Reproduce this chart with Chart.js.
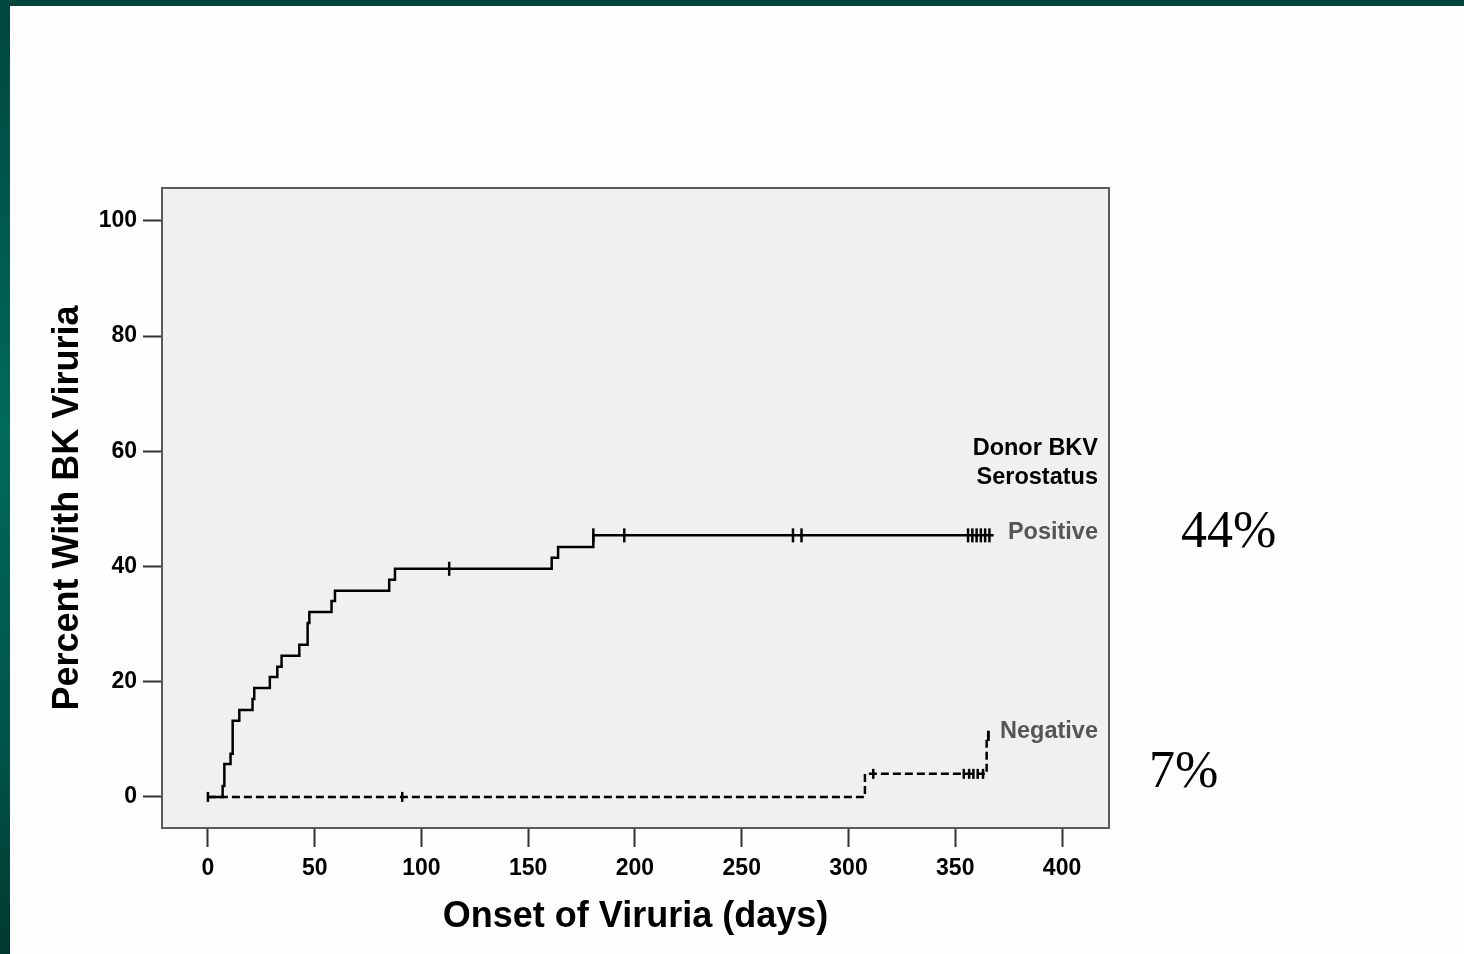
<!DOCTYPE html>
<html>
<head>
<meta charset="utf-8">
<script src="https://cdn.jsdelivr.net/npm/chart.js@4.4.0/dist/chart.umd.min.js"></script>
<style>
  html, body { margin: 0; padding: 0; background: #fefefe; }
  #wrap { position: relative; width: 1464px; height: 954px; overflow: hidden; background: #fefefe; }
  #chart { position: absolute; left: 0; top: 0; }
  #topbar { position: absolute; left: 0; top: 0; width: 1464px; height: 6px; background: #00463d; }
  #leftbar { position: absolute; left: 0; top: 0; width: 10px; height: 954px;
    background: linear-gradient(to bottom, #00463d 0%, #006a5c 45%, #005246 80%, #00382f 100%); }
  .lbl { position: absolute; font-family: "Liberation Sans", Arial, sans-serif; font-weight: bold;
    font-size: 23.5px; line-height: 28px; white-space: nowrap; transform: translateY(-50%); }
  .pct { position: absolute; font-family: "Liberation Serif", "Times New Roman", serif;
    font-size: 52px; line-height: 60px; color: #000; white-space: nowrap; transform: translateY(-50%); }
</style>
</head>
<body>
<div id="wrap">
  <canvas id="chart" width="1464" height="954"></canvas>
  <div id="topbar"></div>
  <div id="leftbar"></div>
  <div class="lbl" style="right:366px; top:447px; color:#000; text-align:right;">Donor BKV</div>
  <div class="lbl" style="right:366px; top:476px; color:#000; text-align:right;">Serostatus</div>
  <div class="lbl" style="right:366px; top:531px; color:#555;">Positive</div>
  <div class="lbl" style="right:366px; top:730px; color:#555;">Negative</div>
  <div class="pct" style="left:1181px; top:530px;">44%</div>
  <div class="pct" style="left:1149px; top:770px;">7%</div>
</div>
<script>
// 軸の目盛り
const xTicks = [0, 50, 100, 150, 200, 250, 300, 350, 400];
const yTicks = [0, 20, 40, 60, 80, 100];

// Positive（実線）: 発症日と累積%
const posDays = [0, 6.9, 7.7, 10.6, 11.6, 14.7, 20.9, 21.7, 29.0, 32.5, 34.5, 42.8, 46.7, 47.5,
  57.9, 59.5, 84.9, 87.6, 161, 164, 180.5, 368];
const posPct = [0, 1.9, 5.7, 7.5, 13.2, 15.1, 17.0, 18.9, 20.8, 22.6, 24.5, 26.4, 30.2, 32.1,
  34.0, 35.8, 37.7, 39.6, 41.5, 43.4, 45.4, 45.4];
const posCensor = [113, 180.5, 195, 274, 278, 356, 358, 360, 362, 364, 366];

// Negative（破線）
const negDays = [0, 307.7, 364.7, 366];
const negPct = [0, 4.0, 10.6, 10.6];
const negCensor = [0, 91, 311.6, 354, 356.5, 358.5, 360.5, 363, 365.5];

// 打ち切り時点の累積%を曲線から読む
function levelAt(days, pct, t) {
  let v = pct[0];
  for (let i = 0; i < days.length; i++) {
    if (days[i] <= t) v = pct[i];
  }
  return v;
}

const toPts = (xs, ys) => xs.map((x, i) => ({ x: x, y: ys[i] }));
const censorPts = (cs, xs, ys) => cs.map(t => ({ x: t, y: levelAt(xs, ys, t) }));

const negCensorPts = censorPts(negCensor, negDays, negPct);
negCensorPts.push({ x: 365.5, y: 10.6 });

// プロット領域の背景と枠
const frame = {
  id: 'frame',
  beforeDatasetsDraw(chart) {
    const a = chart.chartArea;
    const ctx = chart.ctx;
    ctx.save();
    ctx.fillStyle = '#f0f0f0';
    ctx.fillRect(a.left, a.top, a.right - a.left, a.bottom - a.top);
    ctx.restore();
  },
  afterDatasetsDraw(chart) {
    const a = chart.chartArea;
    const ctx = chart.ctx;
    ctx.save();
    ctx.strokeStyle = '#5a5a5a';
    ctx.lineWidth = 2;
    ctx.strokeRect(a.left, a.top, a.right - a.left, a.bottom - a.top);
    ctx.restore();
  }
};

Chart.defaults.font.family = '"Liberation Sans", Arial, sans-serif';
Chart.defaults.color = '#000';

new Chart(document.getElementById('chart'), {
  type: 'line',
  data: {
    datasets: [
      {
        data: toPts(posDays, posPct),
        stepped: 'before',
        borderColor: '#000',
        borderWidth: 2.5,
        pointRadius: 0,
        fill: false
      },
      {
        data: toPts(negDays, negPct),
        stepped: 'before',
        borderColor: '#000',
        borderWidth: 2.5,
        borderDash: [8, 4],
        pointRadius: 0,
        fill: false
      },
      {
        type: 'scatter',
        data: censorPts(posCensor, posDays, posPct),
        pointStyle: 'line',
        rotation: 90,
        pointRadius: 7,
        borderColor: '#000',
        borderWidth: 2.5,
        showLine: false
      },
      {
        type: 'scatter',
        data: negCensorPts,
        pointStyle: 'line',
        rotation: 90,
        pointRadius: 5,
        borderColor: '#000',
        borderWidth: 2.5,
        showLine: false
      }
    ]
  },
  options: {
    responsive: false,
    animation: false,
    layout: {
      padding: { left: 0, top: 188, right: 355, bottom: 0 }
    },
    plugins: {
      legend: { display: false },
      tooltip: { enabled: false }
    },
    scales: {
      x: {
        type: 'linear',
        min: -21.5,
        max: 422,
        afterFit(scale) { scale.height = 126; },
        afterBuildTicks(scale) { scale.ticks = xTicks.map(v => ({ value: v })); },
        border: { display: false },
        grid: {
          drawOnChartArea: false,
          drawTicks: true,
          tickLength: 19,
          tickWidth: 2,
          tickColor: '#333'
        },
        ticks: {
          padding: 8,
          maxRotation: 0,
          font: { size: 23, weight: 'bold' },
          color: '#000'
        },
        title: {
          display: true,
          text: 'Onset of Viruria (days)',
          font: { size: 36, weight: 'bold' },
          color: '#000',
          padding: { top: 0, bottom: 15 }
        }
      },
      y: {
        type: 'linear',
        min: -5.4,
        max: 105.7,
        afterFit(scale) { scale.width = 162; },
        afterBuildTicks(scale) { scale.ticks = yTicks.map(v => ({ value: v })); },
        border: { display: false },
        grid: {
          drawOnChartArea: false,
          drawTicks: true,
          tickLength: 19,
          tickWidth: 2,
          tickColor: '#333'
        },
        ticks: {
          padding: 6,
          font: { size: 23, weight: 'bold' },
          color: '#000'
        },
        title: {
          display: true,
          text: 'Percent With BK Viruria',
          font: { size: 36, weight: 'bold' },
          color: '#000',
          padding: { top: 46, bottom: 0 }
        }
      }
    }
  },
  plugins: [frame]
});
</script>
</body>
</html>
